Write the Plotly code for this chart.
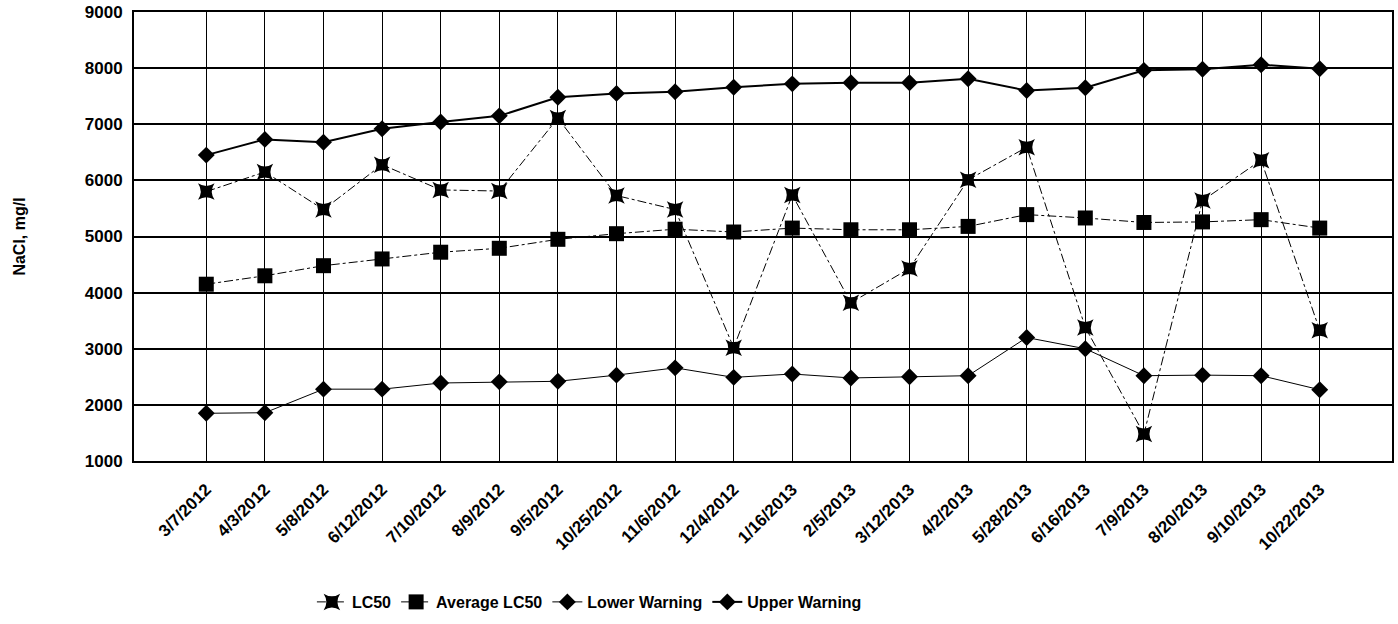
import plotly.graph_objects as go

dates = ["3/7/2012", "4/3/2012", "5/8/2012", "6/12/2012", "7/10/2012", "8/9/2012",
         "9/5/2012", "10/25/2012", "11/6/2012", "12/4/2012", "1/16/2013", "2/5/2013",
         "3/12/2013", "4/2/2013", "5/28/2013", "6/16/2013", "7/9/2013", "8/20/2013",
         "9/10/2013", "10/22/2013"]

lc50 = [5800, 6150, 5480, 6280, 5830, 5810, 7110, 5730, 5480, 3020,
        5740, 3820, 4430, 6010, 6590, 3380, 1480, 5640, 6360, 3330]

avg_lc50 = [4150, 4300, 4480, 4600, 4720, 4790, 4950, 5050, 5130, 5080,
            5150, 5120, 5120, 5180, 5390, 5330, 5250, 5260, 5300, 5150]

lower_warning = [1850, 1860, 2280, 2280, 2390, 2410, 2420, 2530, 2660, 2490,
                 2550, 2480, 2500, 2520, 3200, 3000, 2520, 2530, 2520, 2270]

upper_warning = [6450, 6730, 6680, 6920, 7040, 7150, 7480, 7550, 7580, 7660,
                 7720, 7740, 7740, 7810, 7600, 7650, 7960, 7980, 8060, 7990]

y_ticks = [1000, 2000, 3000, 4000, 5000, 6000, 7000, 8000, 9000]

font = "Liberation Sans, Arial, sans-serif"

fig = go.Figure()
fig.add_trace(go.Scatter(
    x=dates, y=lc50, name="LC50", mode="lines+markers",
    line=dict(color="black", width=1, dash="dashdot"),
    marker=dict(symbol="star-square", size=15, color="black"),
))
fig.add_trace(go.Scatter(
    x=dates, y=avg_lc50, name="Average LC50", mode="lines+markers",
    line=dict(color="black", width=1, dash="dashdot"),
    marker=dict(symbol="square", size=15, color="black"),
))
fig.add_trace(go.Scatter(
    x=dates, y=lower_warning, name="Lower Warning", mode="lines+markers",
    line=dict(color="black", width=1),
    marker=dict(symbol="diamond", size=13, color="black"),
))
fig.add_trace(go.Scatter(
    x=dates, y=upper_warning, name="Upper Warning", mode="lines+markers",
    line=dict(color="black", width=2),
    marker=dict(symbol="diamond", size=13, color="black"),
))

fig.update_layout(
    width=1398, height=624,
    margin=dict(l=134, r=6, t=12, b=163, autoexpand=False),
    paper_bgcolor="white", plot_bgcolor="white",
    font=dict(family=font, size=15, color="black"),
    showlegend=True,
    legend=dict(orientation="h", x=0.362, xanchor="center", y=-0.314, yanchor="middle",
                font=dict(family=font, size=16, color="black", weight="bold"),
                itemwidth=30, tracegroupgap=0),
)
fig.update_xaxes(
    type="category", tickangle=-45, automargin=False,
    showgrid=True, gridcolor="black", gridwidth=1,
    showline=True, linecolor="black", linewidth=2, mirror=True,
    ticks="", ticklabelstandoff=10,
    tickfont=dict(family=font, size=17, color="black", weight="bold"),
)
fig.update_yaxes(
    range=[1000, 9000], tickvals=y_ticks, automargin=False,
    showgrid=True, gridcolor="black", gridwidth=1.5,
    showline=True, linecolor="black", linewidth=2, mirror=True,
    ticks="", zeroline=False, ticklabelstandoff=6,
    tickfont=dict(family=font, size=17, color="black", weight="bold"),
    title=dict(text="NaCl, mg/l", font=dict(family=font, size=16, color="black", weight="bold"), standoff=55),
)

fig.write_html("out.html", config={"displayModeBar": False},
               post_script="document.body.style.margin='0px';")
